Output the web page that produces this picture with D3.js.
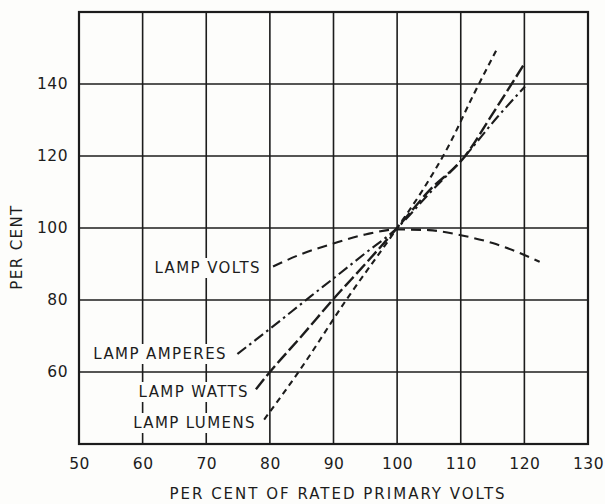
<!DOCTYPE html>
<html>
<head>
<meta charset="utf-8">
<script src="https://cdn.jsdelivr.net/npm/d3@7"></script>
<style>
  html, body { margin: 0; padding: 0; background: #fdfdfb; }
  svg { display: block; }
  text { font-family: "DejaVu Sans", "Liberation Sans", sans-serif; fill: #1c1c1c; }
</style>
</head>
<body>
<svg id="chart" width="605" height="504"></svg>
<script>
// ---- Data ----
const xTicks = [50, 60, 70, 80, 90, 100, 110, 120, 130];
const xTickLabels = ["50", "60", "70", "80", "90", "100", "110", "120", "130"];
const yTicks = [60, 80, 100, 120, 140];
const yTickLabels = ["60", "80", "100", "120", "140"];

const voltsX   = [80.5, 85, 90, 95, 100, 105, 110, 115, 120, 122.4];
const voltsY   = [89.3, 92.8, 95.7, 98.2, 99.6, 99.4, 98.0, 95.8, 92.5, 90.6];

const amperesX = [74.9, 80, 86.4, 90, 95, 100, 105, 110.5, 115.8, 120.1];
const amperesY = [65, 72, 81, 86, 93, 100, 109.5, 119.6, 130.9, 139.3];

const wattsX   = [77.8, 80, 85, 90, 95, 100, 105, 110.6, 115, 120.1];
const wattsY   = [55.2, 60, 70, 80.3, 90, 100, 110.3, 119.8, 131.7, 145.9];

const lumensX  = [79.1, 84.5, 92, 100, 104, 108, 112, 115.6];
const lumensY  = [46.8, 60, 80, 100, 110.5, 122.5, 137, 149.4];

const seriesNames = ["LAMP VOLTS", "LAMP AMPERES", "LAMP WATTS", "LAMP LUMENS"];
const xTitle = "PER CENT OF RATED PRIMARY VOLTS";
const yTitle = "PER CENT";

// ---- Layout ----
const svg = d3.select("#chart");
const L = 79, R = 588, T = 12, B = 444;
const x = d3.scaleLinear().domain([50, 130]).range([L, R]);
const y = d3.scaleLinear().domain([40, 160]).range([B, T]);
const ink = "#1c1c1c";

// grid
const gridX = [60, 70, 80, 90, 100, 110, 120];
const gridY = [60, 80, 100, 120, 140];
svg.append("g").selectAll("line").data(gridX).join("line")
  .attr("x1", d => x(d)).attr("x2", d => x(d))
  .attr("y1", T).attr("y2", B)
  .attr("stroke", ink).attr("stroke-width", 1.6);
svg.append("g").selectAll("line").data(gridY).join("line")
  .attr("x1", L).attr("x2", R)
  .attr("y1", d => y(d)).attr("y2", d => y(d))
  .attr("stroke", ink).attr("stroke-width", 1.6);

// frame
svg.append("rect").attr("x", L).attr("y", T).attr("width", R - L).attr("height", B - T)
  .attr("fill", "none").attr("stroke", ink).attr("stroke-width", 2.2);

// axes (tick labels via d3 axes, domain/ticks hidden)
const xAxis = d3.axisBottom(x).tickValues(xTicks).tickFormat((d, i) => xTickLabels[i]).tickSize(0).tickPadding(14);
const gx = svg.append("g").attr("transform", `translate(0,${B})`).call(xAxis);
gx.select(".domain").remove();
gx.selectAll("text").attr("font-size", 15.5).attr("fill", ink)
  .style("font-family", "'DejaVu Sans', sans-serif").attr("letter-spacing", 0.5);

const yAxis = d3.axisLeft(y).tickValues(yTicks).tickFormat((d, i) => yTickLabels[i]).tickSize(0).tickPadding(11);
const gy = svg.append("g").attr("transform", `translate(${L},0)`).call(yAxis);
gy.select(".domain").remove();
gy.selectAll("text").attr("font-size", 15.5).attr("fill", ink)
  .style("font-family", "'DejaVu Sans', sans-serif").attr("letter-spacing", 0.5);

// axis titles
svg.append("text").attr("x", 338).attr("y", 499).attr("text-anchor", "middle")
  .attr("font-size", 15).attr("letter-spacing", 2).text(xTitle);
svg.append("text").attr("transform", "translate(22,247) rotate(-90)").attr("text-anchor", "middle")
  .attr("font-size", 15).attr("letter-spacing", 1.4).text(yTitle);

// series labels with white backing (grid gaps)
const labelPos = [
  {name: seriesNames[0], xr: 261, cy: 268},
  {name: seriesNames[1], xr: 227, cy: 354},
  {name: seriesNames[2], xr: 249, cy: 392},
  {name: seriesNames[3], xr: 256, cy: 423}
];
const lg = svg.append("g");
labelPos.forEach(p => {
  const t = lg.append("text").attr("x", p.xr).attr("y", p.cy).attr("dy", "0.36em")
    .attr("text-anchor", "end").attr("font-size", 15).attr("letter-spacing", 1.4).text(p.name);
  const bb = t.node().getBBox();
  lg.insert("rect", "text").attr("x", bb.x - 4).attr("y", p.cy - 10).attr("width", bb.width + 5).attr("height", 20)
    .attr("fill", "#fdfdfb");
});

// curves
const line = d3.line().x(d => x(d[0])).y(d => y(d[1])).curve(d3.curveMonotoneX);
const zip = (a, b) => a.map((v, i) => [v, b[i]]);
const series = [
  {pts: zip(voltsX, voltsY), dash: "10,6", w: 2.1},
  {pts: zip(amperesX, amperesY), dash: "11,4,2.5,4", w: 2.1},
  {pts: zip(wattsX, wattsY), dash: "13,4", w: 2.4},
  {pts: zip(lumensX, lumensY), dash: "6,4.5", w: 2.1}
];
svg.append("g").selectAll("path").data(series).join("path")
  .attr("d", d => line(d.pts))
  .attr("fill", "none").attr("stroke", ink)
  .attr("stroke-width", d => d.w)
  .attr("stroke-dasharray", d => d.dash);
</script>
</body>
</html>
